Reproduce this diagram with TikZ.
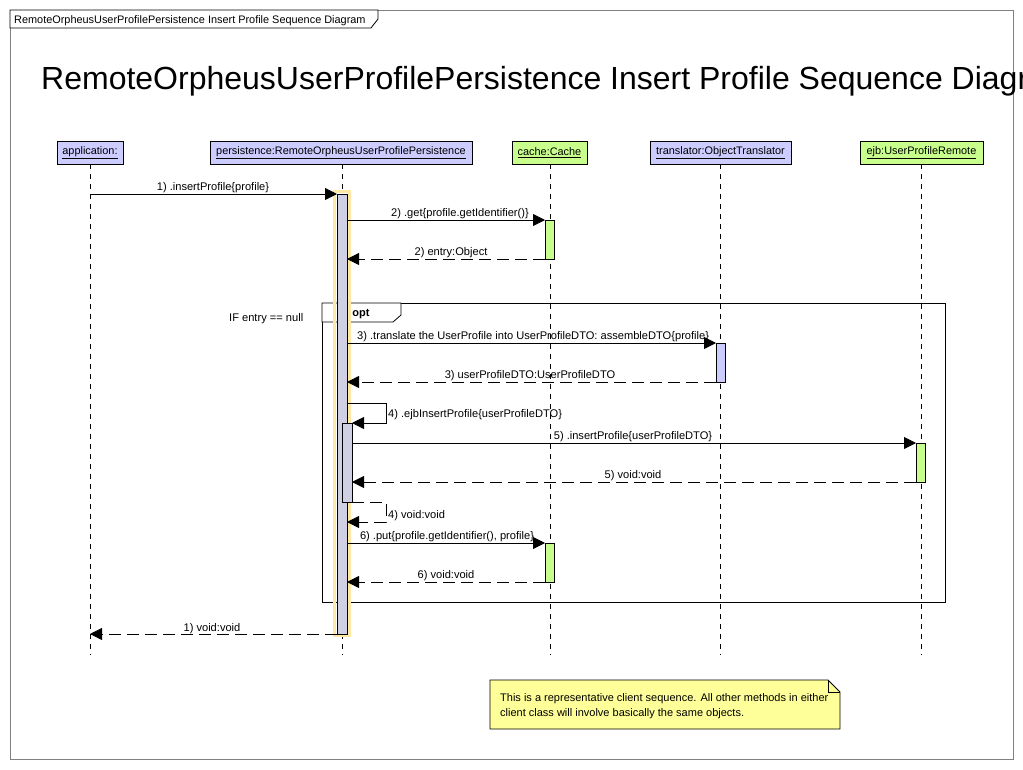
\documentclass[tikz,border=0pt]{standalone}
\usepackage{fontspec}
\setmainfont{Liberation Sans}
\usetikzlibrary{arrows.meta}
\definecolor{lblue}{RGB}{204,204,255}
\definecolor{lgreen}{RGB}{200,255,140}
\definecolor{actgray}{RGB}{208,208,228}
\definecolor{hl}{RGB}{255,232,165}
\definecolor{notey}{RGB}{255,255,153}
\definecolor{framegray}{RGB}{128,128,128}
\begin{document}
\begin{tikzpicture}[x=1pt,y=-1pt,
  lbl/.style={font=\fontsize{11.1}{13}\selectfont, inner sep=0pt, anchor=base},
  lblw/.style={lbl, anchor=base west},
  msg/.style={draw, -{Triangle[length=12pt,width=12pt]}, line width=0.8pt},
  ret/.style={msg, dash pattern=on 12pt off 6pt},
  life/.style={draw, dash pattern=on 5pt off 5pt, line width=0.8pt},
  head/.style={draw, line width=0.8pt, minimum height=23pt, inner sep=0pt, font=\fontsize{10.9}{13}\selectfont},
  bluehead/.style={head, fill=lblue},
  greenhead/.style={head, fill=lgreen},
  bar/.style={draw, line width=0.8pt},
]
\clip (0,0) rectangle (1023,769);
\fill[white] (0,0) rectangle (1023,769);
% frame
\draw[framegray, line width=0.8pt] (10,10) rectangle (1013,759);
\draw[fill=white, line width=0.8pt] (10,10) -- (378,10) -- (378,19) -- (371,28) -- (10,28) -- cycle;
\node[lblw, font=\fontsize{10.9}{13}\selectfont] (tabtxt) at (14,23) {RemoteOrpheusUserProfilePersistence Insert Profile Sequence Diagram};
\node[inner sep=0pt, anchor=base west, font=\fontsize{32}{38}\selectfont] (title) at (41,89) {RemoteOrpheusUserProfilePersistence Insert Profile Sequence Diagram};

% heads
\node[bluehead, minimum width=66pt] (app) at (90,152.5) {\underline{application:}};
\node[bluehead, minimum width=262pt] (pers) at (341,152.5) {\underline{persistence:RemoteOrpheusUserProfilePersistence}};
\node[greenhead, minimum width=75pt] (cache) at (549.5,152.5) {\underline{cache:Cache}};
\node[bluehead, minimum width=141pt] (trans) at (720.5,152.5) {\underline{translator:ObjectTranslator}};
\node[greenhead, minimum width=123pt] (ejb) at (921.5,152.5) {\underline{ejb:UserProfileRemote}};

% lifeline ends
\coordinate (appE) at (90,655);
\coordinate (persE) at (342,655);
\coordinate (cacheE) at (550,655);
\coordinate (transE) at (720,655);
\coordinate (ejbE) at (921,655);
\draw[life] (90,164) -- (appE);
\draw[life] (342,164) -- (persE);
\draw[life] (550,164) -- (cacheE);
\draw[life] (720,164) -- (transE);
\draw[life] (921,164) -- (ejbE);

% opt fragment
\draw[line width=0.8pt] (322,303) rectangle (945,602);
\draw[fill=white, line width=0.8pt] (322,303) -- (401,303) -- (401,315) -- (393,322) -- (322,322) -- cycle;
\node[lblw] (guard) at (229,321) {IF entry == null};

% activation bars
\draw[hl, line width=3pt] (334.5,191.5) rectangle (349.5,635.5);
\draw[bar, fill=actgray] (337,194) rectangle (347,634);
\draw[bar, fill=lgreen] (545,220) rectangle (554,259);
\draw[bar, fill=lblue] (716,343) rectangle (725,382);
\draw[bar, fill=actgray] (342,423) rectangle (352,502);
\draw[bar, fill=lgreen] (916,443) rectangle (925,482);
\draw[bar, fill=lgreen] (545,543) rectangle (554,582);
\node[lbl, font=\bfseries\fontsize{11}{13}\selectfont] (opt) at (361,316) {opt};

% message coordinates
\coordinate (m1a) at (90,194);   \coordinate (m1b) at (337,194);
\coordinate (m2a) at (347,220);  \coordinate (m2b) at (545,220);
\coordinate (r2a) at (545,259);  \coordinate (r2b) at (347,259);
\coordinate (m3a) at (347,343);  \coordinate (m3b) at (716,343);
\coordinate (r3a) at (716,382);  \coordinate (r3b) at (347,382);
\coordinate (m4a) at (347,403);  \coordinate (m4b) at (352,423);
\coordinate (m5a) at (352,443);  \coordinate (m5b) at (916,443);
\coordinate (r5a) at (916,482);  \coordinate (r5b) at (352,482);
\coordinate (r4a) at (352,502);  \coordinate (r4b) at (347,522);
\coordinate (m6a) at (347,543);  \coordinate (m6b) at (545,543);
\coordinate (r6a) at (545,582);  \coordinate (r6b) at (347,582);
\coordinate (r1a) at (337,634);  \coordinate (r1b) at (90,634);

\draw[msg] (m1a) -- (m1b);
\draw[msg] (m2a) -- (m2b);
\draw[ret] (r2a) -- (r2b);
\draw[msg] (m3a) -- (m3b);
\draw[ret] (r3a) -- (r3b);
\draw[msg] (m4a) -- (386,403) -- (386,423) -- (m4b);
\draw[msg] (m5a) -- (m5b);
\draw[ret] (r5a) -- (r5b);
\draw[ret] (r4a) -- (386,502) -- (386,522) -- (r4b);
\draw[msg] (m6a) -- (m6b);
\draw[ret] (r6a) -- (r6b);
\draw[ret] (r1a) -- (r1b);

% labels
\node[lbl] (l1) at (213,190) {1) .insertProfile\{profile\}};
\node[lbl] (l2) at (460,216) {2) .get\{profile.getIdentifier()\}};
\node[lbl] (l2r) at (451,255) {2) entry:Object};
\node[lblw] (l3) at (357,339) {3) .translate the UserProfile into UserProfileDTO: assembleDTO\{profile\}};
\node[lbl] (l3r) at (530,378) {3) userProfileDTO:UserProfileDTO};
\node[lblw] (l4) at (388,417) {4) .ejbInsertProfile\{userProfileDTO\}};
\node[lbl] (l5) at (633,439) {5) .insertProfile\{userProfileDTO\}};
\node[lbl] (l5r) at (633,478) {5) void:void};
\node[lblw] (l4r) at (388,518) {4) void:void};
\node[lbl] (l6) at (447,539) {6) .put\{profile.getIdentifier(), profile\}};
\node[lbl] (l6r) at (446,578) {6) void:void};
\node[lbl] (l1r) at (212,631) {1) void:void};

% note
\draw[fill=notey, line width=0.8pt] (490,680) -- (828,680) -- (840,692) -- (840,729) -- (490,729) -- cycle;
\draw[line width=0.8pt] (828,680) -- (828,692) -- (840,692);
\node[lblw, font=\fontsize{11}{13}\selectfont] (n1) at (500,701) {This is a representative client sequence. All other methods in either};
\node[lblw, font=\fontsize{11}{13}\selectfont] (n2) at (500,716) {client class will involve basically the same objects.};
\end{tikzpicture}
\end{document}
